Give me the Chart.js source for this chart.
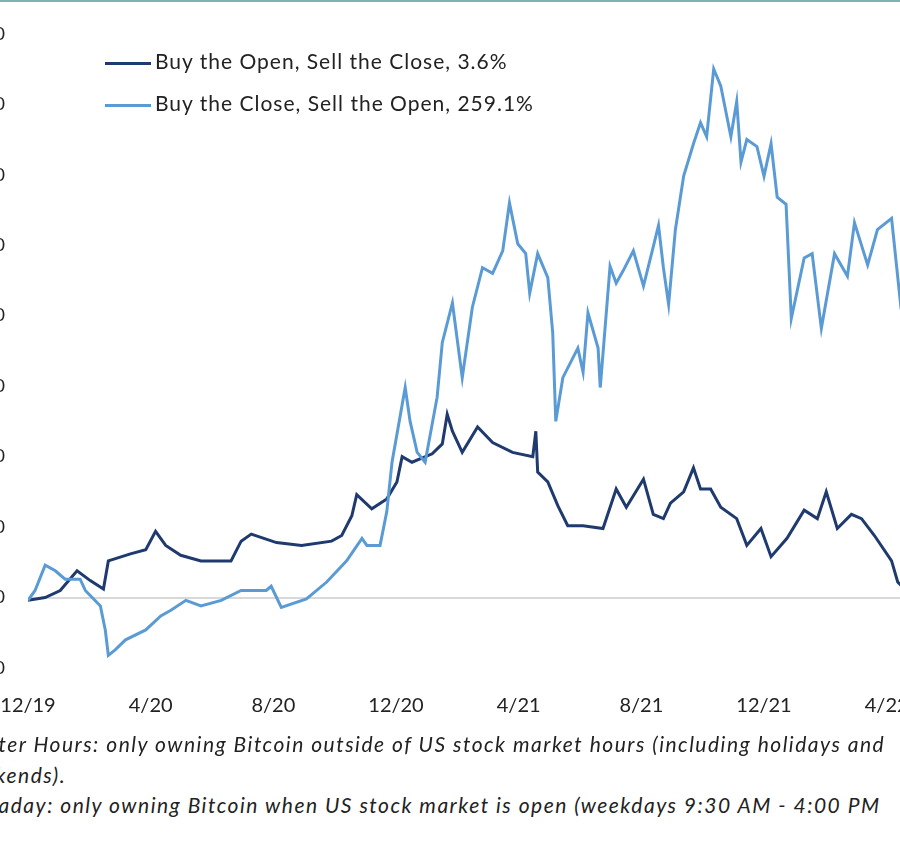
<!DOCTYPE html>
<html>
<head>
<meta charset="utf-8">
<script src="https://cdn.jsdelivr.net/npm/chart.js@4/dist/chart.umd.min.js"></script>
<style>
  html, body { margin: 0; padding: 0; background: #fff; width: 900px; height: 842px; overflow: hidden; position: relative; }
  #wrap { position: absolute; left: -32px; top: 0; width: 980px; height: 740px; }
  .leg { position: absolute; font-family: Lato, sans-serif; font-size: 21px; letter-spacing: 1px; color: #222; white-space: nowrap; }
  .leg span { display: inline-block; width: 46px; height: 3px; vertical-align: middle; margin-right: 4px; }
  .note { position: absolute; font-family: Lato, sans-serif; font-style: italic; font-size: 21px; letter-spacing: 1.5px; color: #222; white-space: nowrap; }
  #topline { position: absolute; left: 0; top: 0; width: 900px; height: 2px; background: #7fb3b3; }
</style>
</head>
<body>
<div id="topline"></div>
<div id="wrap"><canvas id="chart"></canvas></div>
<div class="leg" style="left:105px; top:48px;"><span style="background:#1f3a6e"></span>Buy the Open, Sell the Close, 3.6%</div>
<div class="leg" style="left:105px; top:90px;"><span style="background:#5b9bd5"></span>Buy the Close, Sell the Open, 259.1%</div>
<div class="note" style="left:-24px; top:731px;">After Hours: only owning Bitcoin outside of US stock market hours (including holidays and</div>
<div class="note" style="left:-44px; top:762px;">weekends).</div>
<div class="note" style="left:-38px; top:792px;">Intraday: only owning Bitcoin when US stock market is open (weekdays 9:30 AM - 4:00 PM</div>
<script>
// 月份从 12/19 起算
const xTickLabels = ['12/19', '4/20', '8/20', '12/20', '4/21', '8/21', '12/21', '4/22'];

const openCloseX = [0, 0.56, 1.05, 1.6, 2.03, 2.46, 2.62, 3.34, 3.84, 4.16, 4.49, 4.98, 5.64, 6.62, 6.95, 7.28, 8.1, 8.92, 9.9, 10.23, 10.56, 10.72, 11.21, 11.7, 12.03, 12.2, 12.52, 13.18, 13.51, 13.67, 13.84, 14.16, 14.66, 15.15, 15.8, 16.46, 16.56, 16.62, 16.95, 17.28, 17.6, 18.1, 18.75, 19.18, 19.51, 20.07, 20.39, 20.72, 20.95, 21.38, 21.7, 21.93, 22.26, 22.59, 23.11, 23.44, 23.9, 24.23, 24.75, 25.31, 25.74, 26.03, 26.39, 26.85, 27.18, 27.6, 28.16, 28.36, 28.59];
const openCloseY = [-2, 0, 5, 19, 12, 6, 26, 31, 34, 47, 37, 30, 26, 26, 40, 45, 39, 37, 40, 44, 58, 73, 63, 70, 82, 100, 96, 102, 109, 130, 118, 103, 121, 110, 103, 100, 118, 89, 82, 65, 51, 51, 49, 77, 64, 84, 59, 56, 67, 75, 92, 77, 77, 64, 56, 37, 49, 29, 42, 62, 56, 75, 49, 59, 56, 44, 26, 11, 6];

const closeOpenX = [0, 0.23, 0.56, 0.89, 1.21, 1.7, 1.87, 2.36, 2.52, 2.62, 2.85, 3.18, 3.84, 4.33, 4.66, 5.15, 5.64, 6.3, 6.95, 7.77, 7.93, 8.26, 9.08, 9.74, 10.39, 10.89, 11.05, 11.48, 11.7, 11.87, 12.3, 12.46, 12.69, 12.95, 13.34, 13.51, 13.84, 14.16, 14.49, 14.82, 15.15, 15.48, 15.7, 15.97, 16.23, 16.36, 16.62, 16.95, 17.11, 17.21, 17.44, 17.93, 18.1, 18.26, 18.59, 18.66, 18.98, 19.18, 19.41, 19.74, 20.07, 20.39, 20.56, 20.72, 20.89, 21.11, 21.38, 21.7, 21.93, 22.13, 22.36, 22.59, 22.92, 23.11, 23.25, 23.44, 23.77, 24.0, 24.23, 24.43, 24.72, 24.89, 25.31, 25.57, 25.87, 26.3, 26.72, 26.95, 27.38, 27.7, 28.16, 28.43, 28.59];
const closeOpenY = [-2, 5, 23, 19, 13, 13, 5, -6, -23, -41, -37, -30, -23, -13, -9, -2, -6, -2, 5, 5, 8, -7, -1, 11, 26, 42, 37, 37, 61, 96, 149, 125, 103, 96, 142, 181, 209, 156, 206, 234, 230, 246, 280, 251, 244, 216, 244, 227, 188, 125, 156, 177, 160, 202, 177, 149, 235, 223, 232, 246, 221, 249, 264, 234, 208, 261, 299, 322, 337, 327, 375, 363, 327, 352, 309, 325, 320, 299, 322, 284, 279, 198, 241, 244, 191, 244, 228, 266, 236, 261, 269, 213, 241];

const toPoints = (xs, ys) => xs.map((x, i) => ({ x: x, y: ys[i] }));

new Chart(document.getElementById('chart'), {
    type: 'line',
    data: {
        datasets: [{
            label: 'Buy the Close, Sell the Open, 259.1%',
            data: toPoints(closeOpenX, closeOpenY),
            borderColor: '#5b9bd5',
            borderWidth: 3,
            pointRadius: 0,
            tension: 0
        }, {
            label: 'Buy the Open, Sell the Close, 3.6%',
            data: toPoints(openCloseX, openCloseY),
            borderColor: '#1f3a6e',
            borderWidth: 3,
            pointRadius: 0,
            tension: 0
        }]
    },
    options: {
        responsive: true,
        maintainAspectRatio: false,
        animation: false,
        layout: { padding: { top: 25 } },
        plugins: { legend: { display: false }, tooltip: { enabled: false } },
        scales: {
            x: {
                type: 'linear',
                min: 0,
                max: 30,
                afterFit: (scale) => { scale.height = 72; },
                afterBuildTicks: (scale) => {
                    scale.ticks = xTickLabels.map((_, i) => ({ value: i * 4 }));
                },
                grid: { display: false },
                border: { display: false },
                ticks: {
                    padding: 18,
                    color: '#222',
                    font: { family: 'Lato', size: 20 },
                    maxRotation: 0,
                    callback: (v) => xTickLabels[v / 4]
                }
            },
            y: {
                min: -50,
                max: 400,
                afterFit: (scale) => { scale.width = 60; },
                border: { display: false },
                grid: {
                    drawTicks: false,
                    color: (ctx) => ctx.tick && ctx.tick.value === 0 ? '#d9d9d9' : 'rgba(0,0,0,0)',
                    lineWidth: 2
                },
                ticks: {
                    stepSize: 50,
                    padding: 23,
                    color: '#222',
                    font: { family: 'Lato', size: 18 }
                }
            }
        }
    }
});
</script>
</body>
</html>
